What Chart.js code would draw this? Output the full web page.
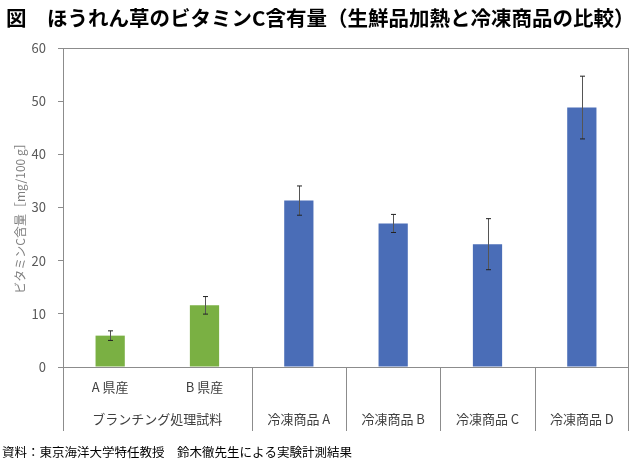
<!DOCTYPE html>
<html>
<head>
<meta charset="utf-8">
<script src="https://cdn.jsdelivr.net/npm/chart.js@4"></script>
<style>
  body { margin: 0; background: #fff; }
</style>
</head>
<body>
<canvas id="vitc-chart" width="640" height="467"></canvas>
<script>
// values (mg/100 g)
const subLabels = ['A 県産', 'B 県産', '', '', '', ''];
const groupLabels = ['ブランチング処理試料', 'ブランチング処理試料', '冷凍商品 A', '冷凍商品 B', '冷凍商品 C', '冷凍商品 D'];
const vitaminC = [5.9, 11.6, 31.3, 27.0, 23.1, 48.8];
const vitaminErr = [0.9, 1.65, 2.75, 1.7, 4.8, 5.9];
const yTicks = [0, 10, 20, 30, 40, 50, 60];

const FONT = "'Noto Sans CJK JP', 'Noto Sans', sans-serif";
const GREEN = '#7AB043';
const BLUE = '#4A6DB7';
const LINE = '#8c8c8c';

// group spans from consecutive equal labels
function groupSpans() {
    const spans = [];
    groupLabels.forEach(function(g, i) {
        const last = spans[spans.length - 1];
        if (last && last.label === g) last.end = i;
        else spans.push({ label: g, start: i, end: i });
    });
    return spans;
}

const errorBars = {
    id: 'errorBars',
    afterDatasetsDraw(chart) {
        const ctx = chart.ctx;
        const x = chart.scales.x, y = chart.scales.y;
        ctx.save();
        ctx.lineWidth = 1;
        vitaminC.forEach(function(v, i) {
            const px = Math.round(x.getPixelForValue(i)) + 0.5;
            const top = y.getPixelForValue(v + vitaminErr[i]);
            const bot = y.getPixelForValue(v - vitaminErr[i]);
            ctx.strokeStyle = '#555';
            ctx.beginPath();
            ctx.moveTo(px, top);
            ctx.lineTo(px, bot);
            ctx.stroke();
            ctx.strokeStyle = '#222';
            ctx.beginPath();
            ctx.moveTo(px - 2.5, top); ctx.lineTo(px + 2.5, top);
            ctx.moveTo(px - 2.5, bot); ctx.lineTo(px + 2.5, bot);
            ctx.stroke();
        });
        ctx.restore();
    }
};

const frameAndLabels = {
    id: 'frameAndLabels',
    afterDraw(chart) {
        const ctx = chart.ctx;
        const a = chart.chartArea;
        const x = chart.scales.x;
        const step = (a.right - a.left) / groupLabels.length;
        ctx.save();
        ctx.strokeStyle = LINE;
        ctx.lineWidth = 1;
        ctx.beginPath();
        // top and right frame
        ctx.moveTo(a.left, Math.round(a.top) + 0.5);
        ctx.lineTo(a.right, Math.round(a.top) + 0.5);
        ctx.moveTo(Math.round(a.right) - 0.5, a.top);
        ctx.lineTo(Math.round(a.right) - 0.5, a.bottom + 64);
        // category axis
        ctx.moveTo(a.left, Math.round(a.bottom) + 0.5);
        ctx.lineTo(a.right, Math.round(a.bottom) + 0.5);
        ctx.moveTo(Math.round(a.left) + 0.5, a.bottom);
        ctx.lineTo(Math.round(a.left) + 0.5, a.bottom + 64);
        const spans = groupSpans();
        spans.forEach(function(s) {
            if (s.end === groupLabels.length - 1) return;
            const sx = Math.round(a.left + (s.end + 1) * step) + 0.5;
            ctx.moveTo(sx, a.bottom);
            ctx.lineTo(sx, a.bottom + 64);
        });
        ctx.stroke();

        ctx.fillStyle = '#404040';
        ctx.font = '13px ' + FONT;
        ctx.textAlign = 'center';
        ctx.textBaseline = 'middle';
        subLabels.forEach(function(l, i) {
            if (l) ctx.fillText(l, x.getPixelForValue(i), a.bottom + 20);
        });
        spans.forEach(function(s) {
            const cx = (x.getPixelForValue(s.start) + x.getPixelForValue(s.end)) / 2;
            ctx.fillText(s.label, cx, a.bottom + 52);
        });

        // axis title
        ctx.save();
        ctx.translate(20, (a.top + a.bottom) / 2 + 8);
        ctx.rotate(-Math.PI / 2);
        ctx.fillStyle = '#7f7f7f';
        ctx.font = '12px ' + FONT;
        ctx.fillText('ビタミンC含量［mg/100 g］', 0, 0);
        ctx.restore();

        // title and source
        ctx.textAlign = 'left';
        ctx.fillStyle = '#000';
        ctx.font = 'bold 20.5px ' + FONT;
        ctx.fillText('図　ほうれん草のビタミンC含有量（生鮮品加熱と冷凍商品の比較）', 6, 18);
        ctx.font = '12.5px ' + FONT;
        ctx.fillText('資料：東京海洋大学特任教授　鈴木徹先生による実験計測結果', 2, 452);
        ctx.restore();
    }
};

new Chart(document.getElementById('vitc-chart'), {
    type: 'bar',
    data: {
        labels: groupLabels.map(function(g, i) { return subLabels[i] || g; }),
        datasets: [{
            data: vitaminC,
            backgroundColor: function(c) { return subLabels[c.dataIndex] ? GREEN : BLUE; },
            borderWidth: 0,
            categoryPercentage: 1,
            barPercentage: 0.31
        }]
    },
    options: {
        responsive: false,
        animation: false,
        events: [],
        layout: { padding: { top: 48, right: 11, bottom: 100, left: 0 } },
        plugins: {
            legend: { display: false },
            tooltip: { enabled: false }
        },
        scales: {
            x: { display: false },
            y: {
                min: 0,
                max: 60,
                afterBuildTicks: function(s) { s.ticks = yTicks.map(function(v) { return { value: v }; }); },
                afterFit: function(s) { s.width = 63; },
                ticks: { color: '#595959', font: { family: FONT, size: 13 }, padding: 12 },
                grid: { drawOnChartArea: false, drawTicks: true, tickLength: 5, color: LINE },
                border: { color: LINE }
            }
        }
    },
    plugins: [errorBars, frameAndLabels]
});
</script>
</body>
</html>
